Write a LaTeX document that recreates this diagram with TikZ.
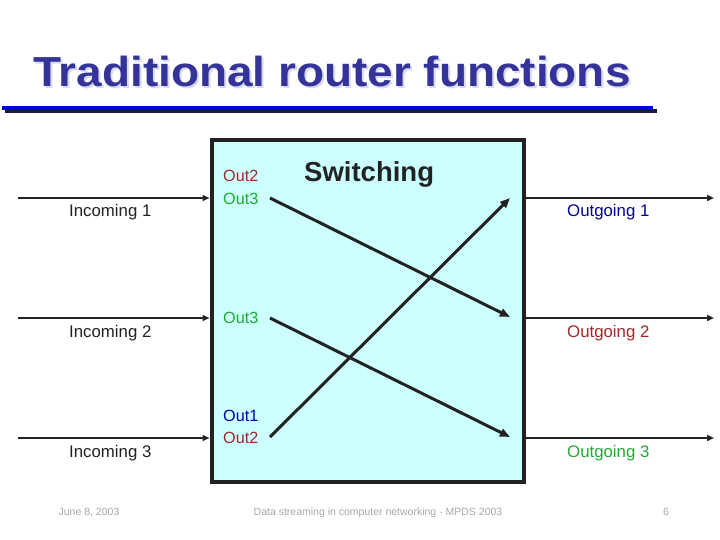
\documentclass[tikz,border=0pt]{standalone}
\usepackage{fontspec}
\setmainfont{Liberation Sans}
\usetikzlibrary{arrows.meta}
\definecolor{titleblue}{HTML}{333399}
\definecolor{ulblue}{HTML}{0000DD}
\definecolor{ulshadow}{HTML}{1A1A4A}
\definecolor{boxfill}{HTML}{CCFFFF}
\definecolor{ink}{HTML}{222222}
\definecolor{outred}{HTML}{A02828}
\definecolor{outgreen}{HTML}{22AA33}
\definecolor{outblue}{HTML}{000099}
\definecolor{foot}{HTML}{A8A8A8}
\colorlet{titleshade}{titleblue!18!white}
\newcommand{\titletext}{\scalebox{1.094}[1]{Traditional router functions}}
\tikzset{
  lbl/.style={inner sep=0pt, anchor=base west, font=\fontsize{16.8}{18}\selectfont},
  outl/.style={inner sep=0pt, anchor=base west, font=\fontsize{16.2}{18}\selectfont},
  extline/.style={draw=ink, line width=2.2pt, -{Triangle[length=7pt,width=6pt]}},
  swline/.style={draw=ink, line width=3pt, -{Triangle[length=10pt,width=8pt]}},
  footl/.style={inner sep=0pt, anchor=base, text=foot, font=\fontsize{10.5}{12}\selectfont},
  titlefont/.style={inner sep=0pt, anchor=base west, font=\fontsize{42}{48}\bfseries\selectfont},
}
\begin{document}
\begin{tikzpicture}[x=1pt,y=-1pt]
\useasboundingbox (0,0) rectangle (720,540);
% title with soft shadow (one text node)
\node[titlefont] (title) at (33,87) {\rlap{\hspace{2pt}\raisebox{-2pt}{\color{titleshade}\titletext}}\color{titleblue}\titletext};
\fill[ulshadow] (5,109.5) rectangle (657,113);
\fill[ulblue] (2,106.5) rectangle (653,110.5);
% box
\node[draw=ink, line width=4pt, fill=boxfill, minimum width=312.5pt, minimum height=342pt, inner sep=0pt, anchor=north west] (box) at (209.5,138) {};
\node[inner sep=0pt, anchor=base west, text=ink, font=\fontsize{27.5}{30}\bfseries\selectfont] (sw) at (304,182) {Switching};
% incoming
\coordinate (in1) at (18,198);
\coordinate (in2) at (18,318);
\coordinate (in3) at (18,438);
\draw[extline] (in1) -- (in1 -| box.west);
\draw[extline] (in2) -- (in2 -| box.west);
\draw[extline] (in3) -- (in3 -| box.west);
\node[lbl, text=ink] (inc1) at (69,217) {Incoming 1};
\node[lbl, text=ink] (inc2) at (69,337) {Incoming 2};
\node[lbl, text=ink] (inc3) at (69,457) {Incoming 3};
% outgoing
\coordinate (ot1) at (714,198);
\coordinate (ot2) at (714,318);
\coordinate (ot3) at (714,438);
\draw[extline] (ot1 -| box.east) -- (ot1);
\draw[extline] (ot2 -| box.east) -- (ot2);
\draw[extline] (ot3 -| box.east) -- (ot3);
\node[lbl, text=outblue] (og1) at (567,217) {Outgoing 1};
\node[lbl, text=outred] (og2) at (567,337) {Outgoing 2};
\node[lbl, text=outgreen] (og3) at (567,457) {Outgoing 3};
% out labels
\node[outl, text=outred] (o12) at (223,182) {Out2};
\node[outl, text=outgreen] (o13) at (223,205) {Out3};
\node[outl, text=outgreen] (o23) at (223,323) {Out3};
\node[outl, text=outblue] (o31) at (223,421) {Out1};
\node[outl, text=outred] (o32) at (223,443) {Out2};
% switching lines
\coordinate (s1) at (270,198);
\coordinate (s2) at (270,318);
\coordinate (s3) at (270,437);
\coordinate (e1) at (510,198);
\coordinate (e2) at (510,317);
\coordinate (e3) at (510,437);
\draw[swline] (s1) -- (e2);
\draw[swline] (s2) -- (e3);
\draw[swline] (s3) -- (e1);
% footer
\node[footl] (fd) at (89,515) {June 8, 2003};
\node[footl] (ft) at (378,515) {Data streaming in computer networking - MPDS 2003};
\node[footl] (fp) at (666,515) {6};
\end{tikzpicture}
\end{document}
